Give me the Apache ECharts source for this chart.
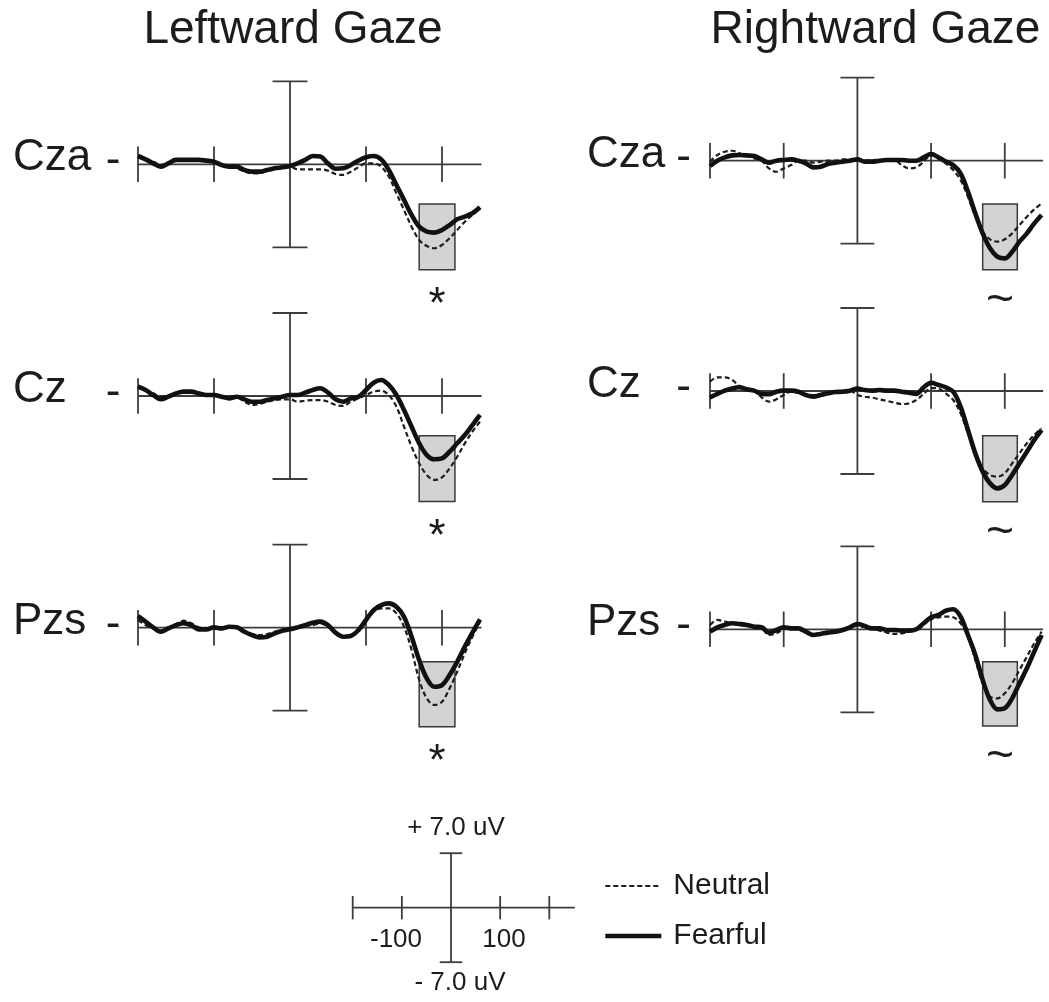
<!DOCTYPE html>
<html>
<head>
<meta charset="utf-8">
<script src="https://cdn.jsdelivr.net/npm/echarts@6/dist/echarts.min.js"></script>
<style>
html,body{margin:0;padding:0;background:#ffffff;}
#chart{width:1049px;height:1002px;}
</style>
</head>
<body>
<div id="chart"></div>
<script>
// ---------------- DATA ----------------
const timeMs = [-200,-190,-180,-170,-160,-150,-140,-130,-120,-110,
                -100,-90,-80,-70,-60,-50,-40,-30,-20,-10,
                0,10,20,30,40,50,60,70,80,90,
                100,110,120,130,140,150,160,170,180,190,
                200,210,220,230,240,250];

const columnTitles = ['Leftward Gaze', 'Rightward Gaze'];
const electrodes = ['Cza', 'Cz', 'Pzs'];
const conditionNames = ['Neutral', 'Fearful'];
const xTicks = [-200, -100, 100, 200];
const axisEndMs = 252;
const yLimitUv = 7;
const boxWindowMs = [170, 217];
const sigMarks = ['*', '~'];          // per gaze column
const scaleLabels = ['+ 7.0 uV', '- 7.0 uV', '-100', '100'];

// Leftward gaze
const leftCzaFearful = [0.70,0.42,0.08,-0.20,0.08,0.37,0.37,0.37,0.37,0.31,
  0.22,-0.06,-0.20,-0.20,-0.48,-0.62,-0.62,-0.48,-0.34,-0.25,
  -0.14,0.08,0.37,0.70,0.65,0.08,-0.37,-0.34,-0.06,0.31,
  0.59,0.70,0.42,-0.48,-1.74,-3.00,-4.27,-5.26,-5.68,-5.76,
  -5.54,-5.12,-4.64,-4.41,-4.13,-3.63];
const leftCzaNeutral = [0.59,0.37,0.22,-0.06,0.14,0.37,0.37,0.37,0.42,0.31,
  0.22,-0.14,-0.25,-0.34,-0.62,-0.76,-0.76,-0.53,-0.37,-0.25,
  -0.20,-0.42,-0.42,-0.42,-0.42,-0.53,-0.82,-0.90,-0.62,-0.25,
  0.08,0.08,-0.20,-1.04,-2.45,-3.85,-5.26,-6.38,-6.89,-7.08,
  -6.80,-6.24,-5.54,-4.84,-4.27,-3.71];
const leftCzFearful = [0.79,0.51,0.08,-0.28,-0.06,0.22,0.37,0.37,0.22,0.08,
  0.08,-0.06,-0.20,-0.06,-0.28,-0.48,-0.48,-0.34,-0.20,-0.06,
  0.08,0.08,0.28,0.51,0.65,0.28,-0.28,-0.48,-0.20,-0.06,
  0.51,1.12,1.35,0.93,0.08,-1.18,-2.59,-3.99,-4.98,-5.34,
  -5.26,-4.70,-3.99,-3.29,-2.45,-1.60];
const leftCzNeutral = [0.73,0.45,0.22,-0.06,0.08,0.28,0.37,0.28,0.28,0.08,
  0.08,-0.11,-0.20,-0.11,-0.48,-0.76,-0.67,-0.48,-0.34,-0.28,
  -0.28,-0.48,-0.39,-0.34,-0.34,-0.48,-0.76,-0.84,-0.48,-0.20,
  0.08,0.37,0.45,0.08,-0.90,-2.59,-4.27,-5.68,-6.66,-7.08,
  -6.86,-6.10,-5.12,-3.99,-3.00,-2.17];
const leftPzsFearful = [0.98,0.51,0.03,-0.34,-0.06,0.22,0.37,0.22,-0.14,-0.14,
  0.03,-0.06,0.08,0.03,-0.34,-0.62,-0.82,-0.76,-0.48,-0.25,
  -0.14,0.03,0.22,0.42,0.51,0.22,-0.42,-0.76,-0.70,-0.20,
  0.65,1.49,1.91,2.05,1.77,0.93,-0.76,-2.73,-4.27,-4.98,
  -4.84,-3.99,-2.87,-1.60,-0.42,0.70];
const leftPzsNeutral = [0.65,0.22,-0.06,-0.25,0.03,0.31,0.59,0.37,0.03,-0.06,
  0.03,-0.06,0.03,0.03,-0.25,-0.53,-0.62,-0.53,-0.34,-0.14,
  -0.06,0.03,0.14,0.22,0.37,0.08,-0.48,-0.76,-0.62,-0.14,
  0.65,1.35,1.63,1.63,1.21,0.08,-1.88,-4.41,-5.96,-6.52,
  -6.24,-5.12,-3.71,-2.16,-0.76,0.51];

// Rightward gaze
const rightCzaFearful = [-0.45,0.00,0.28,0.45,0.48,0.45,0.39,0.11,-0.17,0.00,
  0.06,0.11,0.00,-0.22,-0.56,-0.51,-0.28,-0.17,-0.08,0.00,
  0.11,-0.08,-0.08,0.00,0.06,0.06,0.06,0.00,0.00,0.28,
  0.56,0.28,-0.08,-0.37,-1.07,-2.61,-4.44,-6.13,-7.39,-8.10,
  -8.24,-7.68,-6.83,-6.13,-5.29,-4.58];
const rightCzaNeutral = [-0.08,0.48,0.76,0.84,0.62,0.39,0.20,0.00,-0.65,-0.93,
  -0.65,-0.37,0.00,0.00,-0.17,-0.08,0.00,0.00,0.11,0.11,
  0.00,0.00,0.00,0.00,0.00,0.06,-0.37,-0.65,-0.56,-0.08,
  0.48,0.20,-0.22,-0.79,-1.63,-3.04,-4.72,-5.99,-6.63,-6.83,
  -6.63,-6.13,-5.42,-4.72,-4.10,-3.60];
const rightCzFearful = [-0.53,-0.25,0.03,0.22,0.31,0.14,0.03,-0.25,-0.28,-0.06,
  0.03,0.03,-0.06,-0.34,-0.48,-0.34,-0.20,-0.08,-0.06,0.03,
  0.20,0.08,0.03,0.08,0.03,0.03,-0.06,-0.14,-0.25,0.31,
  0.70,0.51,0.31,-0.06,-1.32,-3.29,-5.26,-6.80,-7.79,-8.21,
  -7.93,-7.08,-6.10,-5.12,-4.13,-3.29];
const rightCzNeutral = [0.79,1.15,1.15,0.93,0.42,0.14,0.03,-0.53,-0.90,-0.70,
  -0.34,-0.06,-0.14,-0.25,-0.34,-0.25,-0.14,-0.06,0.03,0.03,
  -0.34,-0.48,-0.56,-0.70,-0.84,-0.98,-1.10,-1.04,-0.76,-0.25,
  0.25,0.20,-0.20,-0.76,-1.88,-3.57,-5.26,-6.52,-7.08,-7.22,
  -6.94,-6.10,-5.26,-4.41,-3.71,-3.15];
const rightPzsFearful = [-0.20,0.17,0.37,0.51,0.45,0.37,0.22,0.17,-0.28,-0.06,
  0.17,0.08,0.08,-0.20,-0.48,-0.39,-0.28,-0.20,-0.06,0.17,
  0.45,0.28,0.08,0.08,-0.06,-0.06,-0.11,-0.11,0.00,0.51,
  1.01,1.21,1.57,1.69,1.07,-0.48,-2.16,-4.27,-5.96,-6.75,
  -6.66,-5.82,-4.55,-3.29,-1.88,-0.48];
const rightPzsNeutral = [0.37,0.79,0.65,0.51,0.37,0.28,0.17,0.08,-0.48,-0.34,
  0.00,0.08,0.00,-0.28,-0.48,-0.39,-0.20,-0.11,0.00,0.17,
  0.28,0.17,0.08,-0.11,-0.28,-0.39,-0.34,-0.20,0.00,0.51,
  0.84,1.01,1.07,1.01,0.51,-0.62,-2.59,-4.55,-5.68,-5.82,
  -5.40,-4.55,-3.43,-2.31,-1.18,-0.20];

// significance window box, uV (top, bottom) per panel: L-Cza, L-Cz, L-Pzs, R-Cza, R-Cz, R-Pzs
const boxTopUv    = [-3.35, -3.35, -2.87, -3.65, -3.77, -2.73];
const boxBottomUv = [-8.90, -8.90, -8.35, -9.20, -9.34, -8.15];

// ---------------- LAYOUT / STYLE ----------------
const FONT = "'Liberation Sans', Arial, Helvetica, sans-serif";
const TEXT = '#1c1c1c';
const AXIS_COLOR = '#3d3d3d';
const PX_PER_UV = 83 / 7;
const X_MIN = -200, X_MAX = 260, Y_MIN = -12, Y_MAX = 8;
const TICK_HALF_UV = 1.5, CAP_HALF_MS = 23;
const NEUTRAL_STYLE = {color:'#1e1e1e', width:2.2, type:[5,3]};
const FEARFUL_STYLE = {color:'#111111', width:4.6};

const panels = [
  {col:0, row:0, baseline:164.3, fear:leftCzaFearful,  neut:leftCzaNeutral},
  {col:0, row:1, baseline:396.0, fear:leftCzFearful,   neut:leftCzNeutral},
  {col:0, row:2, baseline:627.7, fear:leftPzsFearful,  neut:leftPzsNeutral},
  {col:1, row:0, baseline:160.7, fear:rightCzaFearful, neut:rightCzaNeutral},
  {col:1, row:1, baseline:391.0, fear:rightCzFearful,  neut:rightCzNeutral},
  {col:1, row:2, baseline:629.3, fear:rightPzsFearful, neut:rightPzsNeutral}
];
const colLeft = [138, 710];
const colPxPerMs = [0.76, 0.7475];

function axesRender(params, api) {
  const ch = [];
  const seg = (a, b, w) => ch.push({type:'line', shape:{x1:a[0], y1:a[1], x2:b[0], y2:b[1]},
                                     style:{stroke:AXIS_COLOR, lineWidth:w}});
  const w = 1.8;
  seg(api.coord([xTicks[0], 0]), api.coord([axisEndMs, 0]), w);
  xTicks.forEach(t => seg(api.coord([t, TICK_HALF_UV]), api.coord([t, -TICK_HALF_UV]), w));
  seg(api.coord([0, yLimitUv]), api.coord([0, -yLimitUv]), w);
  seg(api.coord([-CAP_HALF_MS, yLimitUv]), api.coord([CAP_HALF_MS, yLimitUv]), w);
  seg(api.coord([-CAP_HALF_MS, -yLimitUv]), api.coord([CAP_HALF_MS, -yLimitUv]), w);
  return {type:'group', children:ch};
}

function boxRenderFactory(mark) {
  return function (params, api) {
    const a = api.coord([api.value(0), api.value(2)]);
    const b = api.coord([api.value(1), api.value(3)]);
    const isStar = mark === '*';
    return {type:'group', children:[
      {type:'rect', shape:{x:a[0], y:a[1], width:b[0]-a[0], height:b[1]-a[1]},
       style:{fill:'#d2d3d5', stroke:'#3a3a3a', lineWidth:1.5}},
      {type:'text', x:(a[0]+b[0])/2, y:b[1] + (isStar ? 36 : 31),
       style:{text:mark, fill:TEXT, fontSize:isStar ? 44 : 48, fontFamily:FONT, align:'center', verticalAlign:'middle'}}
    ]};
  };
}

const grids = [], xAxes = [], yAxes = [], series = [], graphics = [];

panels.forEach((p, i) => {
  const pxMs = colPxPerMs[p.col];
  grids.push({left: colLeft[p.col], top: p.baseline - Y_MAX * PX_PER_UV,
              width: (X_MAX - X_MIN) * pxMs, height: (Y_MAX - Y_MIN) * PX_PER_UV, show:false});
  xAxes.push({type:'value', gridIndex:i, min:X_MIN, max:X_MAX, show:false});
  yAxes.push({type:'value', gridIndex:i, min:Y_MIN, max:Y_MAX, show:false});
  series.push({type:'custom', name:'window'+i, xAxisIndex:i, yAxisIndex:i, z:1, silent:true,
               renderItem: boxRenderFactory(sigMarks[p.col]),
               encode:{x:[0,1], y:[2,3]},
               data:[[boxWindowMs[0], boxWindowMs[1], boxTopUv[i], boxBottomUv[i]]]});
  series.push({type:'custom', name:'axes'+i, xAxisIndex:i, yAxisIndex:i, z:2, silent:true,
               renderItem: axesRender, encode:{x:0, y:1}, data:[[0,0]]});
  series.push({type:'line', name:conditionNames[0], xAxisIndex:i, yAxisIndex:i, z:3,
               data: timeMs.map((t, k) => [t, p.neut[k]]), showSymbol:false, symbol:'none', smooth:0.35,
               itemStyle:{color:NEUTRAL_STYLE.color}, lineStyle:NEUTRAL_STYLE, silent:true});
  series.push({type:'line', name:conditionNames[1], xAxisIndex:i, yAxisIndex:i, z:4,
               data: timeMs.map((t, k) => [t, p.fear[k]]), showSymbol:false, symbol:'none', smooth:0.35,
               itemStyle:{color:FEARFUL_STYLE.color}, lineStyle:FEARFUL_STYLE, silent:true});

  // electrode labels with dash
  const lx = p.col === 0 ? 13 : 587;
  const dx = p.col === 0 ? 113 : 683.5;
  graphics.push({type:'text', x:lx, y:p.baseline - 6,
    style:{text:electrodes[p.row], fill:TEXT, fontSize:44, fontFamily:FONT, align:'left', verticalAlign:'middle'}});
  graphics.push({type:'text', x:dx, y:p.baseline - 3,
    style:{text:'-', fill:TEXT, fontSize:44, fontFamily:FONT, align:'center', verticalAlign:'middle'}});
});

// scale-bar legend grid (index 6)
const LG = 6;
const lgPxMs = 0.4915, lgPxUv = 54.5 / 7;
grids.push({left: 352.7, top: 907.7 - yLimitUv * lgPxUv, width: (X_MAX - X_MIN) * lgPxMs,
            height: 2 * yLimitUv * lgPxUv, show:false});
xAxes.push({type:'value', gridIndex:LG, min:X_MIN, max:X_MAX, show:false});
yAxes.push({type:'value', gridIndex:LG, min:-yLimitUv, max:yLimitUv, show:false});
series.push({type:'custom', name:'scale', xAxisIndex:LG, yAxisIndex:LG, silent:true,
             renderItem: axesRender, encode:{x:0, y:1}, data:[[0,0]]});

// titles
graphics.push({type:'text', x:293, y:30, style:{text:columnTitles[0], fill:TEXT, fontSize:46, fontFamily:FONT, align:'center', verticalAlign:'middle'}});
graphics.push({type:'text', x:875.5, y:30, style:{text:columnTitles[1], fill:TEXT, fontSize:46, fontFamily:FONT, align:'center', verticalAlign:'middle'}});
// scale labels
const scaleFont = 26;
graphics.push({type:'text', x:456, y:828, style:{text:scaleLabels[0], fill:TEXT, fontSize:scaleFont, fontFamily:FONT, align:'center', verticalAlign:'middle'}});
graphics.push({type:'text', x:460, y:983, style:{text:scaleLabels[1], fill:TEXT, fontSize:scaleFont, fontFamily:FONT, align:'center', verticalAlign:'middle'}});
graphics.push({type:'text', x:396, y:940, style:{text:scaleLabels[2], fill:TEXT, fontSize:scaleFont, fontFamily:FONT, align:'center', verticalAlign:'middle'}});
graphics.push({type:'text', x:504, y:940, style:{text:scaleLabels[3], fill:TEXT, fontSize:scaleFont, fontFamily:FONT, align:'center', verticalAlign:'middle'}});

const chart = echarts.init(document.getElementById('chart'));
chart.setOption({
  animation:false,
  backgroundColor:'#ffffff',
  grid:grids, xAxis:xAxes, yAxis:yAxes, series:series,
  legend:{
    data:[
      {name:conditionNames[0], lineStyle:NEUTRAL_STYLE},
      {name:conditionNames[1], lineStyle:FEARFUL_STYLE}
    ],
    orient:'vertical', left:598, top:866, itemWidth:56, itemHeight:16,
    itemGap:20, selectedMode:false,
    itemStyle:{opacity:0},
    textStyle:{fontSize:30, fontFamily:FONT, color:TEXT, padding:[0,0,0,7]}
  },
  graphic:graphics
});
</script>
</body>
</html>
